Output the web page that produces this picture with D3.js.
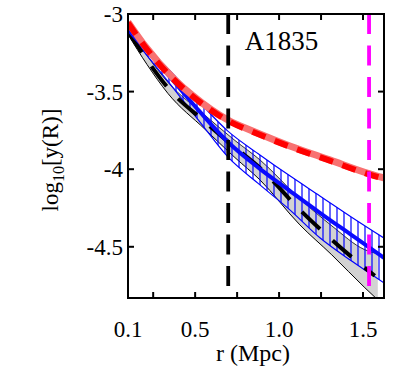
<!DOCTYPE html>
<html><head><meta charset="utf-8">
<script src="https://cdn.jsdelivr.net/npm/d3@7"></script>
<style>body{margin:0;background:#fff;}</style>
</head><body>
<svg id="c" width="400" height="384" font-family="'Liberation Serif', 'DejaVu Serif', serif"></svg>
<script>
// ---- data ----
const redR = [0.1, 0.201, 0.380, 0.481, 0.695, 0.856, 1.064, 1.302, 1.540, 1.624];
const redV = [-3.052, -3.206, -3.425, -3.522, -3.683, -3.760, -3.850, -3.940, -4.030, -4.056];

const blueR = [0.1, 0.231, 0.35, 0.529, 0.695, 0.886, 1.064, 1.243, 1.439, 1.624];
const blueV = [-3.100, -3.258, -3.406, -3.631, -3.825, -3.998, -4.140, -4.281, -4.430, -4.571];
const blueHi = [-3.084, -3.232, -3.365, -3.573, -3.755, -3.908, -4.043, -4.172, -4.314, -4.443];
const blueLo = [-3.118, -3.290, -3.450, -3.696, -3.921, -4.101, -4.262, -4.442, -4.597, -4.732];

const blackR = [0.1, 0.213, 0.338, 0.558, 0.737, 0.886, 1.124, 1.314, 1.511, 1.570];
const blackV = [-3.112, -3.296, -3.476, -3.695, -3.860, -3.992, -4.262, -4.455, -4.636, -4.687];
const grayR  = [0.1, 0.213, 0.338, 0.558, 0.737, 0.886, 1.124, 1.314, 1.511, 1.588];
const grayHi = [-3.092, -3.268, -3.440, -3.652, -3.815, -3.940, -4.191, -4.365, -4.519, -4.545];
const grayLo = [-3.132, -3.325, -3.512, -3.742, -3.925, -4.069, -4.359, -4.552, -4.764, -4.842];

const vlineBlack = 0.697;
const vlineMagenta = 1.536;
const xTicks = [0.25, 0.5, 0.75, 1.0, 1.25, 1.5];
const xTickLabels = ["0.1", "0.5", "1.0", "1.5"];
const yTicks = [-3.5, -4, -4.5];
const yTickLabels = ["-3", "-3.5", "-4", "-4.5"];
const clusterName = "A1835";

// ---- layout ----
const L = 128, R = 384, T = 14, B = 298;
const FONT = "'Liberation Serif', 'DejaVu Serif', serif";
const x = d3.scaleLinear().domain([0.1, 1.625]).range([L, R]);
const y = d3.scaleLinear().domain([-3, -4.83]).range([T, B]);
const svg = d3.select("#c");
const defs = svg.append("defs");
defs.append("clipPath").attr("id", "clip").append("rect")
  .attr("x", L).attr("y", T).attr("width", R - L).attr("height", B - T);
const pat = defs.append("pattern").attr("id", "hatch").attr("patternUnits", "userSpaceOnUse")
  .attr("width", 7).attr("height", 10);
pat.append("line").attr("x1", 1).attr("x2", 1).attr("y1", 0).attr("y2", 10)
  .attr("stroke", "#0000ff").attr("stroke-width", 1.2);

const g = svg.append("g").attr("clip-path", "url(#clip)");
const curve = d3.curveMonotoneX;
const zipBand = (rs, hi, lo) => rs.map((r, i) => ({r, hi: hi[i], lo: lo[i]}));
const zip = (rs, vs) => rs.map((r, i) => ({r, v: vs[i]}));
const area = d3.area().x(d => x(d.r)).y0(d => y(d.lo)).y1(d => y(d.hi)).curve(curve);
const line = d3.line().x(d => x(d.r)).y(d => y(d.v)).curve(curve);

// gray band
const gb = zipBand(grayR, grayHi, grayLo);
g.append("path").attr("d", area(gb)).attr("fill", "#d2d2d2");
g.append("path").attr("d", line(gb.map(d => ({r: d.r, v: d.hi})))).attr("fill", "none").attr("stroke", "#000").attr("stroke-width", 0.8);
g.append("path").attr("d", line(gb.map(d => ({r: d.r, v: d.lo})))).attr("fill", "none").attr("stroke", "#000").attr("stroke-width", 1);

// blue hatched band
const bb = zipBand(blueR, blueHi, blueLo);
g.append("path").attr("d", area(bb)).attr("fill", "url(#hatch)").attr("stroke", "#0000ff").attr("stroke-width", 1.2);

// black dashed mean
g.append("path").attr("d", line(zip(blackR, blackV))).attr("fill", "none")
  .attr("stroke", "#000").attr("stroke-width", 4).attr("stroke-dasharray", "25,17");

// blue line
g.append("path").attr("d", line(zip(blueR, blueV))).attr("fill", "none")
  .attr("stroke", "#0a0aff").attr("stroke-width", 4);

// red band
const redD = line(zip(redR, redV));
g.append("path").attr("d", redD).attr("fill", "none").attr("stroke", "#f87171").attr("stroke-width", 7);
g.append("path").attr("d", redD).attr("fill", "none").attr("stroke", "#ff0000").attr("stroke-width", 6)
  .attr("stroke-dasharray", "14,10").attr("transform", "translate(0,0.8)");

// vertical dashed lines
[[vlineBlack, "#000"], [vlineMagenta, "#ff00ff"]].forEach(([v, c]) => {
  g.append("line").attr("x1", x(v)).attr("x2", x(v)).attr("y1", y(-3)).attr("y2", y(-4.83))
    .attr("stroke", c).attr("stroke-width", 3.8).attr("stroke-dasharray", "20,11.5");
});

// label
svg.append("text").attr("x", x(0.796)).attr("y", y(-3.232)).attr("font-family", FONT).attr("font-size", 27).text(clusterName);

// frame
svg.append("rect").attr("x", L).attr("y", T).attr("width", R - L).attr("height", B - T)
  .attr("fill", "none").attr("stroke", "#000").attr("stroke-width", 2);

// ticks
xTicks.forEach(t => {
  svg.append("line").attr("x1", x(t)).attr("x2", x(t)).attr("y1", B).attr("y2", B - 6).attr("stroke", "#000").attr("stroke-width", 2);
  svg.append("line").attr("x1", x(t)).attr("x2", x(t)).attr("y1", T).attr("y2", T + 6).attr("stroke", "#000").attr("stroke-width", 2);
});
yTicks.forEach(t => {
  svg.append("line").attr("x1", L).attr("x2", L + 6).attr("y1", y(t)).attr("y2", y(t)).attr("stroke", "#000").attr("stroke-width", 2);
  svg.append("line").attr("x1", R).attr("x2", R - 6).attr("y1", y(t)).attr("y2", y(t)).attr("stroke", "#000").attr("stroke-width", 2);
});
xTickLabels.forEach(s => {
  svg.append("text").attr("x", x(+s)).attr("y", 337).attr("text-anchor", "middle").attr("font-family", FONT).attr("font-size", 23).text(s);
});
yTickLabels.forEach(s => {
  svg.append("text").attr("x", 123).attr("y", y(+s) + 8).attr("text-anchor", "end").attr("font-family", FONT).attr("font-size", 23).text(s);
});

// axis titles
svg.append("text").attr("x", 253).attr("y", 361).attr("text-anchor", "middle").attr("font-family", FONT).attr("font-size", 24).text("r (Mpc)");
const yl = svg.append("text").attr("transform", "translate(58,160) rotate(-90)").attr("text-anchor", "middle").attr("font-family", FONT).attr("font-size", 23);
yl.append("tspan").text("log");
yl.append("tspan").attr("font-size", 16).attr("dy", 6).text("10");
yl.append("tspan").attr("dy", -6).text("[y(R)]");
</script>
</body></html>
